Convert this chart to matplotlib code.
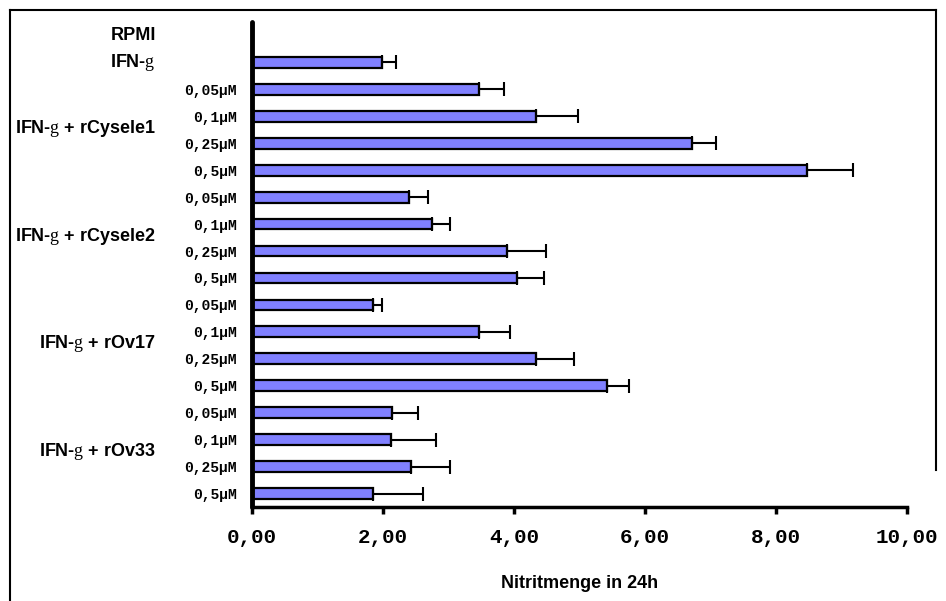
import numpy as np
import matplotlib
matplotlib.use("Agg")
import matplotlib.pyplot as plt
from matplotlib.lines import Line2D
import matplotlib.transforms as mtransforms

plt.rcParams['mathtext.fontset'] = 'custom'
plt.rcParams['mathtext.rm'] = 'Liberation Serif'

# ---- data ----
row_labels = ["", "", "0,05µM", "0,1µM", "0,25µM", "0,5µM",
              "0,05µM", "0,1µM", "0,25µM", "0,5µM",
              "0,05µM", "0,1µM", "0,25µM", "0,5µM",
              "0,05µM", "0,1µM", "0,25µM", "0,5µM"]
values = [np.nan, 1.99,
          3.46, 4.34, 6.72, 8.47,
          2.39, 2.75, 3.89, 4.04,
          1.84, 3.46, 4.34, 5.42,
          2.14, 2.12, 2.42, 1.84]
errors = [0.0, 0.21,
          0.39, 0.64, 0.36, 0.70,
          0.30, 0.27, 0.60, 0.42,
          0.15, 0.48, 0.58, 0.33,
          0.40, 0.69, 0.60, 0.77]
single_labels = ["RPMI", r"IFN-$\mathrm{g}$"]
group_labels = [r"IFN-$\mathrm{g}$ + rCysele1", r"IFN-$\mathrm{g}$ + rCysele2",
                r"IFN-$\mathrm{g}$ + rOv17", r"IFN-$\mathrm{g}$ + rOv33"]
group_rows = [(2, 5), (6, 9), (10, 13), (14, 17)]
xticks = [0, 2, 4, 6, 8, 10]
xtick_labels = ["0,00", "2,00", "4,00", "6,00", "8,00", "10,00"]
xlabel = "Nitritmenge in 24h"

# ---- figure ----
W, H = 946, 601
fig = plt.figure(figsize=(W / 100, H / 100), dpi=100)
ax = fig.add_axes([252 / W, (H - 507) / H, (907 - 252) / W, (507 - 22) / H])

y = np.arange(len(values))
vals = np.array(values, dtype=float)
errs = np.array(errors, dtype=float)
ax.barh(y, vals, height=0.4, color="#8080FF", edgecolor="black", linewidth=1.6, zorder=2)
mask = ~np.isnan(vals)
ax.errorbar(vals[mask], y[mask], xerr=[np.zeros(mask.sum()), errs[mask]],
            fmt="none", ecolor="black", elinewidth=1.5, capsize=5, capthick=1.5, zorder=3)

ax.set_ylim(len(values) - 0.5, -0.5)
ax.set_xlim(0, 10)
ax.set_yticks(y)
ax.set_yticklabels(row_labels, family="Liberation Mono", fontweight="bold", fontsize=10.5)
ax.tick_params(axis="y", length=0, pad=11)
ax.set_xticks(xticks)
ax.set_xticklabels(xtick_labels, family="Liberation Mono", fontweight="bold", fontsize=15)
ax.tick_params(axis="x", length=5, width=2.5, pad=10, direction="out")

for side in ["top", "right"]:
    ax.spines[side].set_visible(False)
ax.spines["left"].set_linewidth(3.5)
ax.spines["bottom"].set_linewidth(2.5)
ax.spines["left"].set_capstyle("round")

ax.set_xlabel(xlabel, family="Liberation Sans", fontweight="bold", fontsize=13, labelpad=20)

trans = mtransforms.blended_transform_factory(fig.transFigure, ax.transData)
lx = 156 / W
for i, lab in enumerate(single_labels):
    ax.text(lx, i, lab, transform=trans, ha="right", va="center",
            family="Liberation Sans", fontweight="bold", fontsize=13)
for lab, (a, b) in zip(group_labels, group_rows):
    ax.text(lx, (a + b) / 2 - 0.05, lab, transform=trans, ha="right", va="center",
            family="Liberation Sans", fontweight="bold", fontsize=13)

# outer frame
def fl(x0, y0, x1, y1):
    fig.add_artist(Line2D([x0 / W, x1 / W], [1 - y0 / H, 1 - y1 / H],
                          color="black", linewidth=1.5, transform=fig.transFigure))
fl(10, 10, 936, 10)
fl(10, 10, 10, 601)
fl(936, 10, 936, 470)

fig.savefig("out.png", dpi=100)
